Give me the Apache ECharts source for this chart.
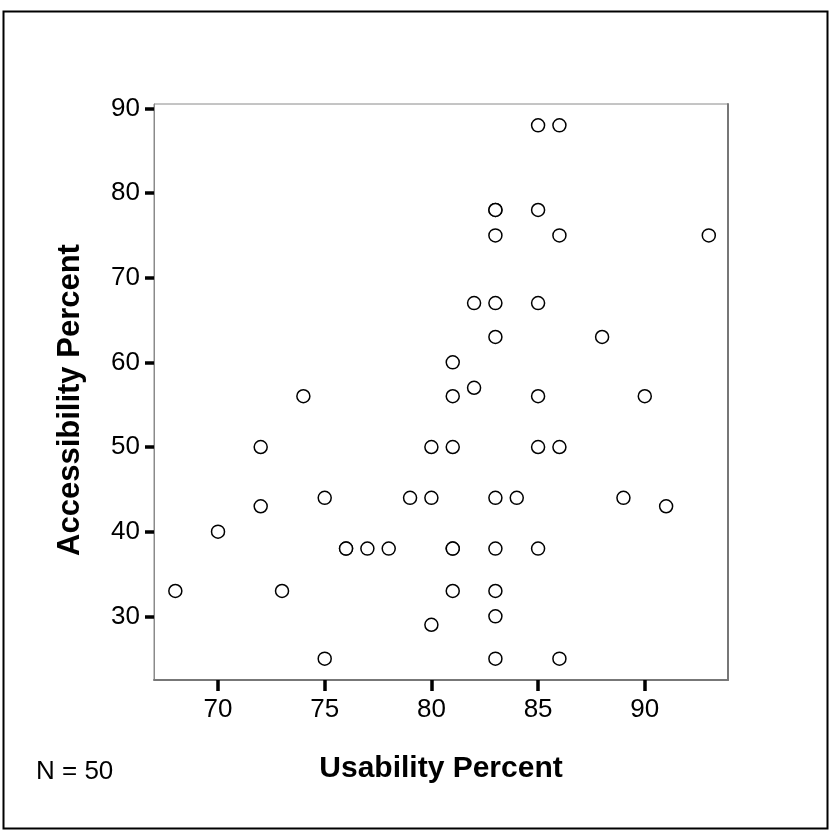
<!DOCTYPE html>
<html>
<head>
<meta charset="utf-8">
<script src="https://cdn.jsdelivr.net/npm/echarts@6/dist/echarts.min.js"></script>
<style>
html,body{margin:0;padding:0;background:#fff;}
#chart{width:833px;height:835px;}
</style>
</head>
<body>
<div id="chart"></div>
<script>
// Usability Percent (x) and Accessibility Percent (y), one entry per case (N = 50)
const usability = [
  85, 86,
  83, 83, 85,
  83, 86, 93,
  82, 83, 85,
  83, 88,
  81,
  74, 81, 82, 85, 90,
  72, 80, 81, 85, 86,
  75, 79, 80, 83, 84, 89,
  72, 91,
  70,
  76, 76, 77, 78, 81, 81, 83, 85,
  68, 73, 81, 83,
  83,
  80,
  75, 83, 86
];
const accessibility = [
  88, 88,
  78, 78, 78,
  75, 75, 75,
  67, 67, 67,
  63, 63,
  60,
  56, 56, 57, 56, 56,
  50, 50, 50, 50, 50,
  44, 44, 44, 44, 44, 44,
  43, 43,
  40,
  38, 38, 38, 38, 38, 38, 38, 38,
  33, 33, 33, 33,
  30,
  29,
  25, 25, 25
];
const xTicks = [70, 75, 80, 85, 90];
const yTicks = [30, 40, 50, 60, 70, 80, 90];
const xTitle = 'Usability Percent';
const yTitle = 'Accessibility Percent';

const points = usability.map((u, i) => [u, accessibility[i]]);
const FONT = '"Liberation Sans", Arial, sans-serif';

const chart = echarts.init(document.getElementById('chart'), null, {renderer: 'canvas'});
chart.setOption({
  backgroundColor: '#ffffff',
  animation: false,
  grid: {
    left: 154, top: 104, right: 105, bottom: 155,
    show: true, borderColor: '#8a8a8a', borderWidth: 1, backgroundColor: 'transparent'
  },
  xAxis: {
    type: 'value', min: 67, max: 93.9,
    name: xTitle, nameLocation: 'middle', nameGap: 74,
    nameTextStyle: {fontFamily: FONT, fontWeight: 'bold', fontSize: 30, color: '#000'},
    axisLine: {show: true, lineStyle: {color: '#777', width: 2}},
    axisTick: {show: true, length: 11, lineStyle: {color: '#000', width: 3.5}, customValues: xTicks},
    axisLabel: {fontFamily: FONT, fontSize: 26, color: '#000', margin: 17, customValues: xTicks},
    splitLine: {show: false}
  },
  yAxis: [{
    type: 'value', min: 22.48, max: 90.52,
    name: yTitle, nameLocation: 'middle', nameGap: 68, nameRotate: 90,
    nameTextStyle: {fontFamily: FONT, fontWeight: 'bold', fontSize: 31, color: '#000', padding: [0, 16, 0, 0]},
    axisLine: {show: true, lineStyle: {color: '#8a8a8a', width: 1}},
    axisTick: {show: true, length: 9, lineStyle: {color: '#000', width: 3.5}, customValues: yTicks},
    axisLabel: {fontFamily: FONT, fontSize: 26, color: '#000', margin: 14, customValues: yTicks},
    splitLine: {show: false}
  }, {
    type: 'value', min: 22.48, max: 90.52, position: 'right',
    axisLine: {show: true, lineStyle: {color: '#777', width: 2}},
    axisTick: {show: false}, axisLabel: {show: false}, splitLine: {show: false}
  }],
  graphic: [{
    type: 'rect', silent: true,
    shape: {x: 3.5, y: 11.5, width: 824, height: 817},
    style: {fill: 'none', stroke: '#000', lineWidth: 2}
  }, {
    type: 'text', left: 36, top: 759,
    style: {text: 'N = ' + points.length, font: '26px ' + FONT, fill: '#000'}
  }],
  series: [{
    type: 'scatter',
    data: points,
    symbol: 'circle',
    symbolSize: 13,
    itemStyle: {color: '#ffffff', borderColor: '#000', borderWidth: 1.5, opacity: 1}
  }]
});
</script>
</body>
</html>
